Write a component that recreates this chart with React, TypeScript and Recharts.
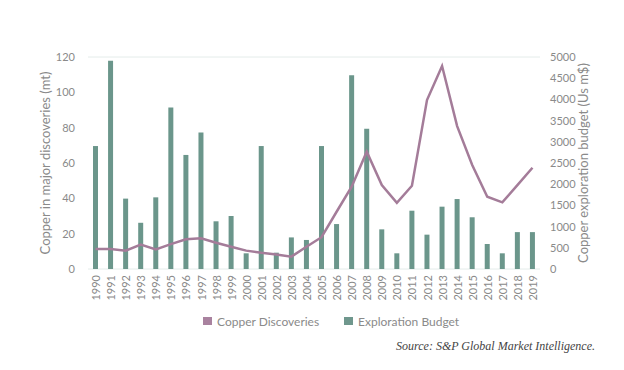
import React from 'react';
import {
  ComposedChart,
  Bar,
  Line,
  XAxis,
  YAxis,
  CartesianGrid,
  Legend
} from 'recharts';

const years = [
  '1990', '1991', '1992', '1993', '1994', '1995', '1996', '1997', '1998', '1999',
  '2000', '2001', '2002', '2003', '2004', '2005', '2006', '2007', '2008', '2009',
  '2010', '2011', '2012', '2013', '2014', '2015', '2016', '2017', '2018', '2019'
];

// Copper in major discoveries (mt) - left axis
const discoveries = [
  11.3, 11.3, 10.4, 13.8, 11.1, 14.1, 16.8, 17.4, 14.9, 12.6,
  10.4, 9.2, 8.2, 7.0, 12.6, 18.0, 32.4, 46.6, 66.4, 47.5,
  37.5, 47.1, 95.6, 114.9, 80.9, 58.9, 40.9, 37.7, 47.5, 57.3
];

// Copper exploration budget (US $m) - right axis
const budget = [
  2900, 4910, 1660, 1090, 1690, 3810, 2690, 3220, 1125, 1250,
  370, 2900, 385, 745, 685, 2900, 1060, 4570, 3310, 935,
  370, 1375, 810, 1470, 1650, 1220, 590, 370, 870, 870
];

const leftTicks = [0, 20, 40, 60, 80, 100, 120];
const rightTicks = [0, 500, 1000, 1500, 2000, 2500, 3000, 3500, 4000, 4500, 5000];

const chartData = years.map((year, i) => ({
  year,
  discoveries: discoveries[i],
  budget: budget[i]
}));

const LINE_COLOR = '#a47c99';
const BAR_COLOR = '#6b968b';
const TEXT_COLOR = '#8a8a8a';
const FONT = 'Lato, "Open Sans", sans-serif';

const YearTick = (props: any) => {
  const { x, y, payload } = props;
  return (
    <text
      x={0}
      y={0}
      transform={`translate(${x}, ${y}) rotate(-90)`}
      textAnchor="end"
      dominantBaseline="central"
      fontSize={11}
      fontFamily={FONT}
      fill={TEXT_COLOR}
    >
      {payload.value}
    </text>
  );
};

const LegendContent = () => (
  <div style={{ position: 'relative', height: 16, fontFamily: FONT, fontSize: 12, color: TEXT_COLOR }}>
    <div style={{ position: 'absolute', left: 0, top: 3, width: 9, height: 8, background: '#a9829f' }} />
    <span style={{ position: 'absolute', left: 14, top: 0, whiteSpace: 'nowrap' }}>Copper Discoveries</span>
    <div style={{ position: 'absolute', left: 141, top: 3, width: 9, height: 8, background: '#6f978d' }} />
    <span style={{ position: 'absolute', left: 155, top: 0, whiteSpace: 'nowrap' }}>Exploration Budget</span>
  </div>
);

const App: React.FC = () => {
  return (
    <div style={{ position: 'absolute', left: 0, top: 0, width: 624, height: 370, background: '#fff' }}>
      <ComposedChart
        width={624}
        height={370}
        data={chartData}
        margin={{ top: 57, right: 0, left: 0, bottom: 0 }}
      >
        <CartesianGrid vertical={false} stroke="#e4ecea" strokeWidth={1} />
        <XAxis
          dataKey="year"
          height={101}
          interval={0}
          axisLine={false}
          tickLine={false}
          tick={<YearTick />}
          tickMargin={0}
          tickSize={6}
        />
        <YAxis
          yAxisId="left"
          orientation="left"
          width={88}
          domain={[0, 120]}
          ticks={leftTicks}
          axisLine={false}
          tickLine={false}
          tickMargin={7}
          tick={{ fontSize: 11, fontFamily: FONT, fill: TEXT_COLOR }}
          label={{
            value: 'Copper in major discoveries (mt)',
            angle: -90,
            position: 'center',
            dx: 1,
            style: { fontSize: 13, fontFamily: FONT, fill: TEXT_COLOR, textAnchor: 'middle' }
          }}
        />
        <YAxis
          yAxisId="right"
          orientation="right"
          width={84}
          domain={[0, 5000]}
          ticks={rightTicks}
          axisLine={false}
          tickLine={false}
          tickMargin={4}
          tick={{ fontSize: 11, fontFamily: FONT, fill: TEXT_COLOR }}
          label={{
            value: 'Copper exploration budget (Us m$)',
            angle: -90,
            position: 'center',
            dx: 1,
            style: { fontSize: 13, fontFamily: FONT, fill: TEXT_COLOR, textAnchor: 'middle' }
          }}
        />
        <Legend
          verticalAlign="middle"
          align="center"
          layout="horizontal"
          content={<LegendContent />}
          wrapperStyle={{ left: 203, top: 314, width: 300, height: 16 }}
        />
        <Bar
          yAxisId="right"
          dataKey="budget"
          name="Exploration Budget"
          fill={BAR_COLOR}
          barSize={5}
          isAnimationActive={false}
        />
        <Line
          yAxisId="left"
          type="linear"
          dataKey="discoveries"
          name="Copper Discoveries"
          stroke={LINE_COLOR}
          strokeWidth={2.5}
          dot={false}
          activeDot={false}
          isAnimationActive={false}
        />
      </ComposedChart>
      <div
        style={{
          position: 'absolute',
          right: 29,
          top: 339,
          fontFamily: '"Liberation Serif", serif',
          fontStyle: 'italic',
          fontSize: 12,
          color: '#444',
          whiteSpace: 'nowrap'
        }}
      >
        Source: S&amp;P Global Market Intelligence.
      </div>
    </div>
  );
};

export default App;
